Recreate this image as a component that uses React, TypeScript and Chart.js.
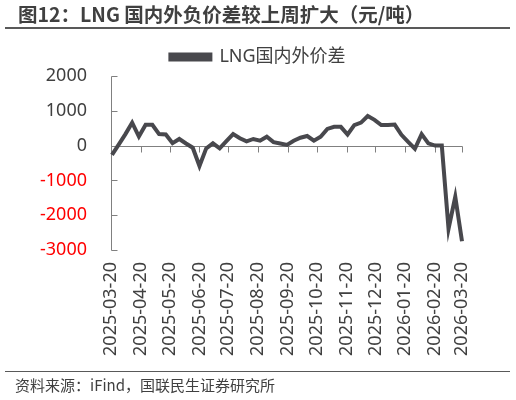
import React, { useEffect, useRef } from "react";
import { Chart, registerables } from "chart.js";

Chart.register(...registerables);

const chartTitle = "图12：LNG 国内外负价差较上周扩大（元/吨）";
const sourceNote = "资料来源：iFind，国联民生证券研究所";
const seriesName = "LNG国内外价差";

// weekly observations (Fridays), starting 2025-03-21
const firstWeekDate = "2025-03-21";
const spreadValues = [
  -265, 30, 330, 660, 260, 600, 600, 330, 320, 70,
  190, 60, -60, -585, -80, 65, -76, 130, 330, 210,
  120, 190, 140, 255, 100, 60, 20, 140, 225, 275,
  140, 255, 480, 540, 540, 320, 590, 660, 850, 740,
  590, 595, 605, 310, 105, -90, 330, 65, 0, 0,
  -2390, -1470, -2750,
];

const xTickLabels = [
  "2025-03-20", "2025-04-20", "2025-05-20", "2025-06-20", "2025-07-20",
  "2025-08-20", "2025-09-20", "2025-10-20", "2025-11-20", "2025-12-20",
  "2026-01-20", "2026-02-20", "2026-03-20",
];

const yMin = -3000;
const yMax = 2000;
const yStep = 1000;

const FONT = '"Noto Sans", "Noto Sans CJK SC", sans-serif';
const LINE_COLOR = "#48484d";
const TEXT_COLOR = "#404040";
const AXIS_COLOR = "#808080";

const dayOffset = (d: string) =>
  (Date.parse(d) - Date.parse(xTickLabels[0])) / 86400000;

const tickDays = xTickLabels.map(dayOffset);

const axesPlugin = {
  id: "customAxes",
  beforeDatasetsDraw(chart: any) {
    const { ctx, chartArea, scales } = chart;
    const x = scales.x;
    const y = scales.y;
    ctx.save();
    ctx.strokeStyle = AXIS_COLOR;
    ctx.lineWidth = 1;
    const left = Math.round(chartArea.left) + 0.5;
    ctx.beginPath();
    ctx.moveTo(left, Math.round(y.getPixelForValue(yMax)) + 0.5);
    ctx.lineTo(left, Math.round(y.getPixelForValue(yMin)) + 0.5);
    y.ticks.forEach((t: any) => {
      const py = Math.round(y.getPixelForValue(t.value)) + 0.5;
      ctx.moveTo(left, py);
      ctx.lineTo(left + 6, py);
    });
    const zy = Math.round(y.getPixelForValue(0)) + 0.5;
    ctx.moveTo(left, zy);
    ctx.lineTo(Math.round(chartArea.right) + 0.5, zy);
    x.ticks.forEach((t: any) => {
      const px = Math.round(x.getPixelForValue(t.value)) + 0.5;
      ctx.moveTo(px, zy);
      ctx.lineTo(px, zy + 6);
    });
    ctx.stroke();
    ctx.restore();
  },
};

export default function App() {
  const canvasRef = useRef<HTMLCanvasElement | null>(null);

  useEffect(() => {
    if (!canvasRef.current) return;
    const start = dayOffset(firstWeekDate);
    const points = spreadValues.map((v, i) => ({ x: start + i * 7, y: v }));

    const chart = new Chart(canvasRef.current, {
      type: "line",
      data: {
        datasets: [
          {
            label: seriesName,
            data: points,
            borderColor: LINE_COLOR,
            backgroundColor: LINE_COLOR,
            borderWidth: 4,
            pointRadius: 0,
            tension: 0,
            clip: 8,
            borderJoinStyle: "miter",
          },
        ],
      },
      options: {
        animation: false,
        responsive: true,
        maintainAspectRatio: false,
        layout: { padding: { top: 43, left: 0, right: 0, bottom: 35 } },
        plugins: {
          legend: {
            position: "top",
            labels: {
              boxWidth: 40,
              boxHeight: 5,
              padding: 5,
              color: TEXT_COLOR,
              font: { family: FONT, size: 18 },
            },
          },
          tooltip: { enabled: false },
        },
        scales: {
          x: {
            type: "linear",
            min: tickDays[0],
            max: tickDays[tickDays.length - 1],
            grid: { display: false, drawTicks: false },
            border: { display: false },
            afterBuildTicks: (scale: any) => {
              scale.ticks = tickDays.map((v) => ({ value: v }));
            },
            afterFit: (scale: any) => {
              scale.height = 115;
            },
            ticks: {
              autoSkip: false,
              minRotation: 90,
              maxRotation: 90,
              padding: 12,
              color: TEXT_COLOR,
              font: { family: FONT, size: 18 },
              callback: (value: any) => {
                const idx = tickDays.indexOf(Number(value));
                return idx >= 0 ? xTickLabels[idx] : "";
              },
            },
          },
          y: {
            min: yMin,
            max: yMax,
            grid: { display: false, drawTicks: false },
            border: { display: false },
            afterFit: (scale: any) => {
              scale.width = 111;
            },
            ticks: {
              stepSize: yStep,
              padding: 24,
              font: { family: FONT, size: 18 },
              callback: (value: any) => String(value),
              color: (c: any) => (c.tick && c.tick.value < 0 ? "#ff0000" : TEXT_COLOR),
            },
          },
          yRightSpace: {
            type: "linear",
            position: "right",
            min: yMin,
            max: yMax,
            grid: { display: false, drawTicks: false },
            border: { display: false },
            ticks: { display: false },
            afterFit: (scale: any) => {
              scale.width = 54;
            },
          },
        },
      },
      plugins: [axesPlugin],
    });
    return () => chart.destroy();
  }, []);

  return (
    <div
      style={{
        position: "absolute",
        left: 0,
        top: 0,
        width: 516,
        height: 400,
        background: "#ffffff",
        fontFamily: FONT,
        overflow: "hidden",
      }}
    >
      <div style={{ position: "absolute", left: 0, top: 0, width: 516, height: 400 }}>
        <canvas ref={canvasRef} />
      </div>
      <div
        style={{
          position: "absolute",
          left: 18,
          top: 2,
          fontSize: 19.5,
          fontWeight: 700,
          color: TEXT_COLOR,
          whiteSpace: "nowrap",
          lineHeight: "24px",
          fontFamily: '"Noto Sans CJK SC", "Noto Sans", sans-serif',
        }}
      >
        {chartTitle}
      </div>
      <div
        style={{
          position: "absolute",
          left: 5,
          top: 27,
          width: 505,
          height: 2,
          background: "#595959",
        }}
      />
      <div
        style={{
          position: "absolute",
          left: 5,
          top: 371,
          width: 505,
          height: 1,
          background: "#595959",
        }}
      />
      <div
        style={{
          position: "absolute",
          left: 15,
          top: 376,
          fontSize: 15,
          color: TEXT_COLOR,
          whiteSpace: "nowrap",
          lineHeight: "18px",
          fontFamily: '"Noto Sans CJK SC", "Noto Sans", sans-serif',
        }}
      >
        {sourceNote}
      </div>
    </div>
  );
}
